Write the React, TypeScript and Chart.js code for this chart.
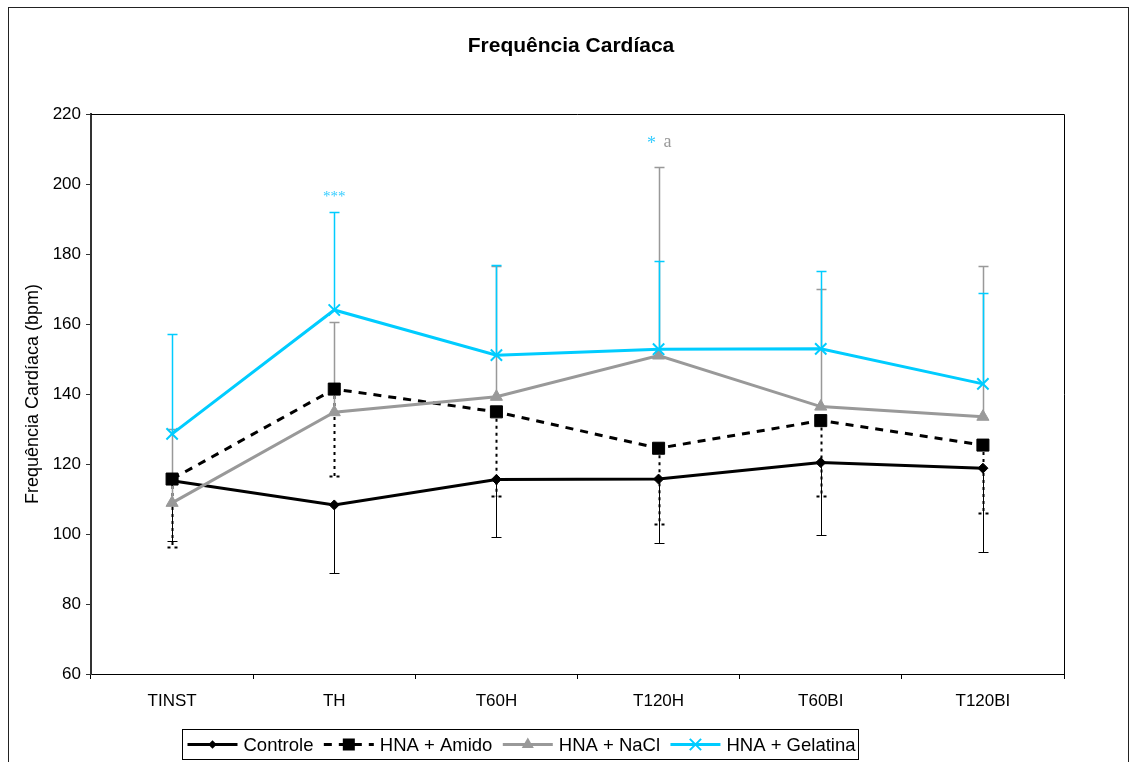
import React, { useEffect, useRef } from "react";
import { Chart, registerables } from "chart.js";

Chart.register(...registerables);

// ---- data ----
const categories = ["TINST", "TH", "T60H", "T120H", "T60BI", "T120BI"];

const controle = [115.2, 108.3, 115.6, 115.7, 120.4, 118.8];
const controleSd = [17.2, 19.5, 16.4, 18.2, 20.7, 23.9];

const amido = [115.7, 141.4, 134.9, 124.5, 132.4, 125.4];
const amidoSd = [19.4, 24.8, 24.0, 21.6, 21.5, 19.3];

const nacl = [108.9, 134.8, 139.2, 151.0, 136.4, 133.5];
const naclSd = [21.0, 25.7, 37.3, 54.0, 33.6, 43.2];

const gelatina = [128.6, 164.0, 151.1, 152.8, 152.9, 142.9];
const gelatinaSd = [28.5, 28.0, 25.8, 25.2, 22.3, 25.9];

const yMin = 60;
const yMax = 220;
const yStep = 20;

const chartTitle = "Frequência Cardíaca";
const yTitle = "Frequência Cardíaca (bpm)";

// significance marks: [category index, value level, text, colour key]
const marks: [number, number, string, string][] = [
  [1, 196.9, "***", "gel"],
  [3, 211.8, "*", "gel"],
  [3, 211.8, "a", "nacl"],
];

const FONT = "'Liberation Sans', Arial, sans-serif";
const SERIF = "'Liberation Serif', 'Times New Roman', serif";
const CYAN = "#00CCFF";
const GREY = "#999999";

const errorCfg = [
  { sd: controleSd, dir: -1, color: "#000000", width: 1, dash: [] as number[] },
  { sd: amidoSd, dir: -1, color: "#000000", width: 2, dash: [3, 4] },
  { sd: naclSd, dir: 1, color: GREY, width: 1.5, dash: [] as number[] },
  { sd: gelatinaSd, dir: 1, color: CYAN, width: 1.5, dash: [] as number[] },
];

const framePlugin = {
  id: "frame",
  beforeDraw(chart: any) {
    const { ctx, width, height } = chart;
    ctx.save();
    ctx.fillStyle = "#ffffff";
    ctx.fillRect(0, 0, width, height);
    ctx.strokeStyle = "#222222";
    ctx.lineWidth = 1;
    ctx.strokeRect(8.5, 7.5, 1120, 800);
    // title
    ctx.fillStyle = "#000";
    ctx.font = `bold 21px ${FONT}`;
    ctx.textAlign = "center";
    ctx.textBaseline = "middle";
    ctx.fillText(chartTitle, 571, 46);
    ctx.restore();
  },
  afterDraw(chart: any) {
    const { ctx, chartArea } = chart;
    ctx.save();
    ctx.strokeStyle = "#000";
    ctx.lineWidth = 1;
    ctx.beginPath();
    ctx.moveTo(chartArea.left, Math.round(chartArea.top) + 0.5);
    ctx.lineTo(Math.round(chartArea.right) + 0.5, Math.round(chartArea.top) + 0.5);
    ctx.lineTo(Math.round(chartArea.right) + 0.5, chartArea.bottom);
    ctx.stroke();
    ctx.restore();
  },
};

const errorBarPlugin = {
  id: "errorBars",
  beforeDatasetsDraw(chart: any) {
    const { ctx } = chart;
    const xs = chart.scales.x;
    const ys = chart.scales.y;
    ctx.save();
    errorCfg.forEach((cfg, di) => {
      const data = chart.data.datasets[di].data as number[];
      ctx.strokeStyle = cfg.color;
      ctx.lineWidth = cfg.width;
      ctx.setLineDash(cfg.dash);
      data.forEach((v, i) => {
        const x = Math.round(xs.getPixelForValue(i)) + 0.5;
        const y0 = ys.getPixelForValue(v);
        const y1 = Math.round(ys.getPixelForValue(v + cfg.dir * cfg.sd[i])) + 0.5;
        ctx.beginPath();
        ctx.moveTo(x, y0);
        ctx.lineTo(x, y1);
        ctx.moveTo(x - 5, y1);
        ctx.lineTo(x + 5, y1);
        ctx.stroke();
      });
    });
    ctx.restore();
  },
  afterDatasetsDraw(chart: any) {
    const { ctx } = chart;
    const xs = chart.scales.x;
    const ys = chart.scales.y;
    ctx.save();
    ctx.textBaseline = "middle";
    marks.forEach(([ci, level, text, key]) => {
      const x = xs.getPixelForValue(ci);
      const y = ys.getPixelForValue(level);
      if (text === "***") {
        ctx.font = `15px ${SERIF}`;
        ctx.fillStyle = "#33CCFF";
        ctx.textAlign = "center";
        ctx.fillText(text, x, y + 2);
      } else if (key === "gel") {
        ctx.font = `18px ${SERIF}`;
        ctx.fillStyle = "#33CCFF";
        ctx.textAlign = "center";
        ctx.fillText(text, x - 7, y + 2);
      } else {
        ctx.font = `18px ${SERIF}`;
        ctx.fillStyle = GREY;
        ctx.textAlign = "center";
        ctx.fillText(text, x + 9, y);
      }
    });
    ctx.restore();
  },
};

function drawMarker(ctx: CanvasRenderingContext2D, ds: any, x: number, y: number) {
  const style = ds.pointStyle;
  const r = ds.pointRadius;
  ctx.save();
  ctx.setLineDash([]);
  ctx.fillStyle = ds.pointBackgroundColor || ds.backgroundColor;
  ctx.strokeStyle = ds.pointBorderColor || ds.borderColor;
  ctx.lineWidth = ds.pointBorderWidth || 1;
  ctx.beginPath();
  if (style === "rect") {
    const s = r * Math.SQRT1_2;
    ctx.rect(x - s, y - s, 2 * s, 2 * s);
    ctx.fill();
  } else if (style === "rectRot") {
    const s = r * Math.SQRT1_2 * 1.2;
    ctx.moveTo(x, y - s);
    ctx.lineTo(x + s, y);
    ctx.lineTo(x, y + s);
    ctx.lineTo(x - s, y);
    ctx.closePath();
    ctx.fill();
  } else if (style === "triangle") {
    ctx.moveTo(x, y - r);
    ctx.lineTo(x + r * 0.866, y + r / 2);
    ctx.lineTo(x - r * 0.866, y + r / 2);
    ctx.closePath();
    ctx.fill();
  } else if (style === "crossRot") {
    const s = r * Math.SQRT1_2;
    ctx.moveTo(x - s, y - s);
    ctx.lineTo(x + s, y + s);
    ctx.moveTo(x + s, y - s);
    ctx.lineTo(x - s, y + s);
    ctx.stroke();
  }
  ctx.restore();
}

const legendPlugin = {
  id: "boxLegend",
  afterDraw(chart: any) {
    const { ctx } = chart;
    const boxL = 182.5;
    const boxT = 729.5;
    const boxW = 676;
    const boxH = 30;
    const cy = boxT + boxH / 2;
    ctx.save();
    ctx.strokeStyle = "#000";
    ctx.lineWidth = 1;
    ctx.strokeRect(boxL, boxT, boxW, boxH);
    ctx.font = `18.5px ${FONT}`;
    ctx.textBaseline = "middle";
    ctx.textAlign = "left";
    const items = chart.data.datasets;
    const sample = 50;
    const textGap = 6;
    const widths = items.map((d: any) => ctx.measureText(d.label).width);
    const used = items.length * (sample + textGap) + widths.reduce((a: number, b: number) => a + b, 0);
    const gap = (boxW - 8 - used) / (items.length - 1);
    let x = boxL + 5;
    items.forEach((ds: any, i: number) => {
      ctx.save();
      ctx.strokeStyle = ds.borderColor;
      ctx.lineWidth = ds.borderWidth;
      ctx.setLineDash(ds.borderDash || []);
      ctx.beginPath();
      ctx.moveTo(x, cy);
      ctx.lineTo(x + sample, cy);
      ctx.stroke();
      ctx.restore();
      drawMarker(ctx, ds, x + sample / 2, cy);
      ctx.fillStyle = "#000";
      ctx.fillText(ds.label, x + sample + textGap, cy + 1);
      x += sample + textGap + widths[i] + gap;
    });
    ctx.restore();
  },
};

export default function App() {
  const ref = useRef<HTMLCanvasElement | null>(null);

  useEffect(() => {
    if (!ref.current) return;
    const chart = new Chart(ref.current, {
      type: "line",
      data: {
        labels: categories,
        datasets: [
          {
            label: "Controle",
            data: controle,
            borderColor: "#000000",
            backgroundColor: "#000000",
            borderWidth: 3,
            pointStyle: "rectRot",
            pointRadius: 5,
            pointBorderWidth: 1,
            tension: 0,
            order: 4,
          },
          {
            label: "HNA + Amido",
            data: amido,
            borderColor: "#000000",
            backgroundColor: "#000000",
            borderWidth: 3,
            borderDash: [8, 7],
            pointStyle: "rect",
            pointRadius: 8.5,
            pointBorderWidth: 1,
            tension: 0,
            order: 3,
          },
          {
            label: "HNA + NaCl",
            data: nacl,
            borderColor: GREY,
            backgroundColor: GREY,
            borderWidth: 3,
            pointStyle: "triangle",
            pointRadius: 7,
            pointBorderWidth: 1,
            tension: 0,
            order: 2,
          },
          {
            label: "HNA + Gelatina",
            data: gelatina,
            borderColor: CYAN,
            backgroundColor: CYAN,
            borderWidth: 3,
            pointStyle: "crossRot",
            pointRadius: 8,
            pointBorderWidth: 2,
            tension: 0,
            order: 1,
          },
        ],
      },
      options: {
        responsive: false,
        animation: false,
        devicePixelRatio: 1,
        layout: { padding: { left: 0, right: 68, top: 114, bottom: 0 } },
        plugins: {
          legend: { display: false },
          title: { display: false },
          tooltip: { enabled: false },
        },
        scales: {
          x: {
            type: "category",
            offset: true,
            grid: {
              display: true,
              drawOnChartArea: false,
              drawTicks: true,
              tickLength: 5,
              color: "#000000",
              offset: true,
            },
            border: { color: "#000000", width: 1 },
            ticks: {
              color: "#000000",
              font: { family: FONT, size: 17 },
              padding: 12,
              maxRotation: 0,
            },
            afterFit: (s: any) => {
              s.height = 88;
            },
          },
          y: {
            min: yMin,
            max: yMax,
            ticks: {
              stepSize: yStep,
              color: "#000000",
              font: { family: FONT, size: 17 },
              padding: 5,
            },
            grid: {
              drawOnChartArea: false,
              drawTicks: true,
              tickLength: 5,
              color: "#333333",
            },
            border: { color: "#333333", width: 2 },
            title: {
              display: true,
              text: yTitle,
              color: "#000000",
              font: { family: FONT, size: 18, weight: "normal" },
              padding: { top: 22, bottom: 0 },
            },
            afterFit: (s: any) => {
              s.width = 91;
            },
          },
        },
      },
      plugins: [framePlugin, errorBarPlugin, legendPlugin],
    } as any);
    return () => chart.destroy();
  }, []);

  return (
    <div style={{ position: "absolute", left: 0, top: 0, width: 1132, height: 762, overflow: "hidden" }}>
      <canvas ref={ref} width={1132} height={762} style={{ width: 1132, height: 762, display: "block" }} />
    </div>
  );
}
